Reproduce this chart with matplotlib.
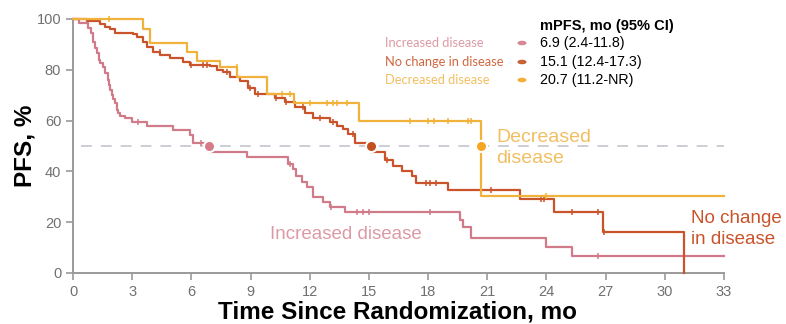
import numpy as np
import matplotlib
matplotlib.use("Agg")
import matplotlib.pyplot as plt

# ---- Kaplan-Meier step data (time in months, PFS in %) ----
inc_times = [0, 0.3, 0.78, 0.9, 1.03, 1.12, 1.2, 1.3, 1.37, 1.5, 1.6, 1.75, 1.82,
             1.88, 1.98, 2.04, 2.13, 2.21, 2.3, 2.38, 2.64, 2.97, 3.73, 5.08,
             5.93, 6.1, 6.9, 8.8, 10.9, 11.15, 11.3, 11.6, 11.86, 12.16, 12.67,
             13.03, 13.8, 19.6, 19.75, 20.2, 24.0, 25.3, 33]
inc_surv = [100, 98.5, 96.5, 94.4, 91, 88.5, 86.5, 84, 82.5, 81, 78.6, 76, 74,
            72, 70, 68.5, 66.8, 64.2, 63, 62, 61, 59.6, 58, 56.3,
            54.3, 51, 47.5, 45.5, 43, 41, 38, 36, 34, 30, 28.1,
            26.1, 24.1, 21, 18, 13.7, 10.4, 6.7, 6.7]

noc_times = [0, 0.71, 1.37, 1.62, 1.88, 2.13, 3.04, 3.24, 3.55, 3.75, 4.05, 4.41,
             4.92, 5.58, 5.93, 6.94, 7.3, 7.6, 7.96, 8.46, 8.87, 9.22, 10.24,
             10.75, 11.25, 11.76, 12.16, 13.03, 13.38, 13.68, 13.94, 14.29,
             15.1, 15.81, 16.2, 16.7, 17.2, 17.4, 19.0, 22.66, 24.4, 26.86,
             30.97]
noc_surv = [100, 99.3, 98, 97, 96, 94.6, 94, 93, 91, 89, 87, 86,
            84.5, 83, 82, 81.3, 80, 79, 77, 75.7, 73, 70.5, 69,
            67.5, 65.5, 63, 61, 59.5, 58, 56.5, 54.7, 51,
            47.5, 44.5, 42, 40, 38, 35.6, 32.7, 29, 24.1, 16.3,
            0]

dec_times = [0, 3.55, 3.9, 5.78, 6.28, 7.45, 8.31, 9.83, 11.2, 14.5, 20.7, 33]
dec_surv = [100, 96, 90.5, 87, 83.5, 81, 77, 70.5, 67, 60, 30.5, 30.5]

# censoring times
inc_cens = [3.3, 6.5, 11.0, 13.1, 14.4, 14.7, 15.0, 18.1, 26.6]
noc_cens = [4.4, 6.0, 6.6, 6.8, 7.8, 8.97, 9.4, 10.3, 10.8, 11.65, 12.5, 13.2,
            14.2, 15.9, 17.9, 18.1, 18.4, 21.2, 23.7, 23.9, 25.3, 26.6, 26.9]
dec_cens = [1.8, 8.3, 10.6, 11.0, 12.0, 12.9, 13.2, 13.4, 13.9, 17.1, 18.0,
            18.3, 19.0, 20.0, 20.2, 24.0]

# medians and legend text
groups = ["Increased disease", "No change in disease", "Decreased disease"]
medians = [6.9, 15.1, 20.7]
median_ci = ["6.9 (2.4-11.8)", "15.1 (12.4-17.3)", "20.7 (11.2-NR)"]

x_ticks = list(range(0, 34, 3))
y_ticks = [0, 20, 40, 60, 80, 100]

line_colors = ["#D07A8A", "#C9542C", "#F0B23A"]
dot_colors = ["#D47C88", "#C4501F", "#F5A623"]
label_colors = ["#DC9AA6", "#D0663E", "#F2BE62"]


def step_value(times, surv, t):
    idx = np.searchsorted(times, t, side="right") - 1
    return surv[max(idx, 0)]


W, H = 786, 324
fig = plt.figure(figsize=(W / 100, H / 100), dpi=100)
ax = fig.add_axes([73 / W, 1 - 273 / H, (724 - 73) / W, (273 - 19) / H])
ax.set_xlim(0, 33)
ax.set_ylim(0, 100)

# median reference line
ax.plot([0.4, 33], [50, 50], color="#C9C9D2", lw=1.3, dashes=(6, 5), zorder=1)

series = [(inc_times, inc_surv, inc_cens),
          (noc_times, noc_surv, noc_cens),
          (dec_times, dec_surv, dec_cens)]
for i, (tt, ss, cc) in enumerate(series):
    ax.plot(tt, ss, drawstyle="steps-post", color=line_colors[i], lw=1.6,
            clip_on=False, zorder=3 + i)
    cy = [step_value(tt, ss, c) for c in cc]
    ax.plot(cc, cy, ls="none", marker="|", ms=5, mew=1.1,
            color=line_colors[i], clip_on=False, zorder=3 + i)
    ax.plot([medians[i]], [50], marker="o", ms=8, color=dot_colors[i],
            mec="white", mew=1.5, ls="none", zorder=10)

# axes styling
for s in ["top", "right"]:
    ax.spines[s].set_visible(False)
for s in ["left", "bottom"]:
    ax.spines[s].set_color("#9A9A9A")
    ax.spines[s].set_linewidth(1.4)
ax.set_xticks(x_ticks)
ax.set_yticks(y_ticks)
ax.tick_params(colors="#9A9A9A", labelcolor="#707070", length=5, width=1.2,
               labelsize=10.5)
for lab in ax.get_xticklabels() + ax.get_yticklabels():
    lab.set_family("Liberation Sans")

# axis titles
fig.text(398 / W, 1 - 319 / H, "Time Since Randomization, mo",
         family="Liberation Sans", fontsize=17.5, fontweight="bold",
         ha="center", va="baseline")
fig.text(25 / W, 1 - 146 / H, "PFS, %", family="Liberation Sans",
         fontsize=17.5, fontweight="bold", rotation=90, ha="center",
         va="center")

# in-plot curve labels
ax.text(21.45, 49.2, "Decreased\ndisease", color=label_colors[2], fontsize=14,
        family="Liberation Sans", va="center", ha="left", linespacing=1.3)
ax.text(10.0, 15.0, "Increased disease", color=label_colors[0], fontsize=13.5,
        family="Liberation Sans", va="center", ha="left")
ax.text(31.35, 17.2, "No change\nin disease", color=line_colors[1],
        fontsize=13.5, family="Liberation Sans", va="center", ha="left",
        linespacing=1.3)

# median legend
fig.text(540 / W, 1 - 26 / H, "mPFS, mo (95% CI)", fontsize=10.5,
         fontweight="bold", family="Liberation Sans", va="center", ha="left")
row_y = [43, 62, 80]
for i in range(3):
    yf = 1 - row_y[i] / H
    fig.text(385 / W, yf, groups[i], fontsize=9.3, family="Lato",
             color=label_colors[i], va="center", ha="left")
    fig.patches.append(plt.Circle((522 / W, yf), 3.8 / W,
                                  transform=fig.transFigure,
                                  color=dot_colors[i], alpha=0.85))
    fig.text(540 / W, yf, median_ci[i], fontsize=10.3,
             family="Liberation Sans", color="black", va="center", ha="left")

fig.savefig("out.png", dpi=100)
